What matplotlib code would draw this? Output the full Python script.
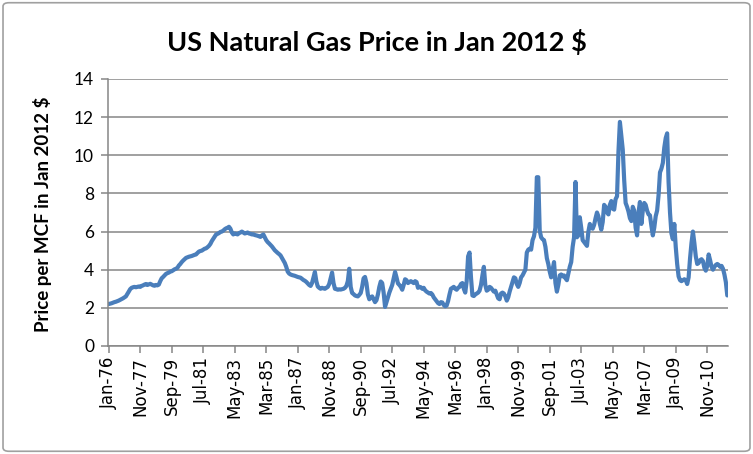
"""US natural gas price (Jan 2012 dollars), monthly Jan-76 .. Jan-12."""

import numpy as np
import matplotlib.pyplot as plt
from matplotlib.patches import FancyBboxPatch

plt.rcParams["font.family"] = ["Lato", "DejaVu Sans"]

TITLE = "US Natural Gas Price in Jan 2012 $"
YLABEL = "Price per MCF in Jan 2012 $"
MONTHS = ["Jan", "Feb", "Mar", "Apr", "May", "Jun",
          "Jul", "Aug", "Sep", "Oct", "Nov", "Dec"]
FIRST_YEAR = 1976
LABEL_EVERY = 22

# monthly values, one row per year (Jan..Dec)
p1976 = [2.20, 2.22, 2.24, 2.27, 2.30, 2.32, 2.35, 2.38, 2.42, 2.46, 2.50, 2.55]
p1977 = [2.60, 2.72, 2.85, 2.98, 3.05, 3.08, 3.10, 3.08, 3.10, 3.12, 3.10, 3.15]
p1978 = [3.18, 3.22, 3.25, 3.20, 3.23, 3.26, 3.22, 3.18, 3.16, 3.20, 3.18, 3.22]
p1979 = [3.40, 3.55, 3.62, 3.70, 3.78, 3.82, 3.85, 3.90, 3.92, 3.97, 4.02, 4.05]
p1980 = [4.10, 4.22, 4.30, 4.40, 4.48, 4.55, 4.62, 4.65, 4.68, 4.70, 4.72, 4.75]
p1981 = [4.78, 4.80, 4.88, 4.95, 4.98, 5.00, 5.05, 5.10, 5.12, 5.18, 5.25, 5.35]
p1982 = [5.50, 5.62, 5.75, 5.85, 5.88, 5.92, 5.98, 6.00, 6.05, 6.12, 6.17, 6.20]
p1983 = [6.25, 6.15, 5.95, 5.85, 5.90, 5.88, 5.85, 5.92, 5.95, 6.00, 5.95, 5.90]
p1984 = [5.92, 5.95, 5.90, 5.88, 5.85, 5.86, 5.82, 5.80, 5.78, 5.75, 5.72, 5.80]
p1985 = [5.85, 5.70, 5.55, 5.45, 5.38, 5.30, 5.22, 5.12, 5.02, 4.95, 4.88, 4.82]
p1986 = [4.75, 4.62, 4.50, 4.35, 4.15, 3.90, 3.80, 3.75, 3.72, 3.70, 3.68, 3.65]
p1987 = [3.62, 3.60, 3.58, 3.52, 3.46, 3.42, 3.36, 3.28, 3.20, 3.15, 3.30, 3.60]
p1988 = [3.88, 3.40, 3.12, 3.05, 3.00, 3.05, 3.02, 3.00, 3.05, 3.10, 3.25, 3.55]
p1989 = [3.85, 3.30, 3.00, 2.98, 2.95, 2.97, 2.96, 2.98, 3.00, 3.05, 3.15, 3.40]
p1990 = [4.05, 3.10, 2.78, 2.72, 2.65, 2.62, 2.60, 2.68, 2.78, 3.10, 3.55, 3.62]
p1991 = [3.30, 2.70, 2.45, 2.55, 2.60, 2.45, 2.30, 2.40, 2.70, 3.10, 3.38, 3.30]
p1992 = [2.80, 2.05, 2.30, 2.55, 2.80, 3.00, 3.20, 3.55, 3.88, 3.60, 3.28, 3.20]
p1993 = [3.10, 2.95, 3.20, 3.50, 3.45, 3.30, 3.35, 3.40, 3.35, 3.30, 3.40, 3.35]
p1994 = [3.05, 3.10, 3.08, 3.00, 3.05, 2.92, 2.85, 2.80, 2.75, 2.78, 2.70, 2.55]
p1995 = [2.45, 2.35, 2.25, 2.20, 2.30, 2.28, 2.15, 2.08, 2.12, 2.35, 2.70, 3.00]
p1996 = [3.05, 3.10, 3.00, 2.95, 3.05, 3.10, 3.25, 3.30, 3.00, 2.80, 3.40, 4.70]
p1997 = [4.90, 3.60, 2.65, 2.62, 2.70, 2.75, 2.80, 2.90, 3.20, 3.70, 4.15, 3.20]
p1998 = [2.90, 2.95, 3.10, 3.05, 2.95, 2.85, 2.90, 2.70, 2.50, 2.45, 2.75, 2.80]
p1999 = [2.75, 2.60, 2.38, 2.55, 2.85, 3.10, 3.35, 3.60, 3.55, 3.25, 3.10, 3.30]
p2000 = [3.60, 3.70, 3.85, 4.00, 4.90, 5.05, 5.10, 5.05, 5.55, 5.75, 6.20, 8.85]
p2001 = [8.85, 6.05, 5.70, 5.60, 5.55, 5.20, 4.60, 4.30, 3.90, 3.60, 4.00, 4.40]
p2002 = [3.30, 2.85, 3.20, 3.70, 3.75, 3.65, 3.70, 3.55, 3.45, 3.80, 4.15, 4.40]
p2003 = [5.20, 5.70, 8.60, 5.70, 5.80, 6.75, 6.20, 5.55, 5.45, 5.35, 5.25, 6.00]
p2004 = [6.40, 6.20, 6.15, 6.35, 6.70, 7.00, 6.80, 6.40, 6.10, 6.50, 7.40, 7.30]
p2005 = [7.00, 6.90, 7.40, 7.60, 7.20, 7.15, 7.70, 7.85, 10.20, 11.75, 11.00, 10.30]
p2006 = [8.70, 7.50, 7.30, 7.05, 6.70, 6.55, 7.30, 7.10, 6.20, 5.80, 7.00, 7.55]
p2007 = [6.40, 7.10, 7.50, 7.40, 7.10, 6.90, 6.85, 6.30, 5.80, 6.20, 6.80, 7.10]
p2008 = [7.90, 9.10, 9.30, 9.60, 10.40, 10.90, 11.15, 8.60, 7.00, 5.90, 5.60, 6.40]
p2009 = [5.20, 4.30, 3.65, 3.45, 3.40, 3.45, 3.50, 3.45, 3.25, 3.60, 4.60, 5.40]
p2010 = [6.00, 5.40, 4.70, 4.30, 4.35, 4.50, 4.55, 4.45, 4.10, 3.95, 4.20, 4.80]
p2011 = [4.50, 4.15, 4.00, 4.15, 4.25, 4.30, 4.25, 4.15, 4.20, 4.05, 3.75, 3.35]
p2012 = [2.65]

YEARS = [p1976, p1977, p1978, p1979, p1980, p1981, p1982, p1983, p1984,
         p1985, p1986, p1987, p1988, p1989, p1990, p1991, p1992, p1993,
         p1994, p1995, p1996, p1997, p1998, p1999, p2000, p2001, p2002,
         p2003, p2004, p2005, p2006, p2007, p2008, p2009, p2010, p2011,
         p2012]

price = np.concatenate([np.asarray(y, dtype=float) for y in YEARS])
idx = np.arange(price.size)
labels = [f"{MONTHS[i % 12]}-{(FIRST_YEAR + i // 12) % 100:02d}" for i in idx]

GRID = "#868686"
BLUE = "#4a7ebb"

fig = plt.figure(figsize=(7.53, 4.54), dpi=100)
fig.patches.append(FancyBboxPatch((0.004, 0.006), 0.992, 0.988,
                                  boxstyle="round,pad=0,rounding_size=0.008",
                                  transform=fig.transFigure, fill=False,
                                  edgecolor="#a0a0a0", linewidth=1.2))

ax = fig.add_axes([0.1434, 0.2379, 0.9668 - 0.1434, 0.826 - 0.2379])
ax.plot(idx, price, color=BLUE, lw=3.0, solid_joinstyle="round",
        solid_capstyle="round")

ax.set_xlim(-0.5, price.size - 0.5)
ax.set_ylim(0, 14)
ax.set_yticks(np.arange(0, 15, 2))
ax.grid(True, axis="y", color=GRID, lw=1.1)
ax.set_axisbelow(True)

ticks = idx[::LABEL_EVERY]
ax.set_xticks(ticks)
ax.set_xticklabels([labels[i] for i in ticks], rotation=90,
                   family="DejaVu Sans", fontsize=12)
ax.tick_params(axis="x", length=5, color=GRID, width=1.1, pad=3)
ax.tick_params(axis="y", length=5, color=GRID, width=1.1, labelsize=12.5, pad=5)

for side in ("top", "right"):
    ax.spines[side].set_visible(False)
for side in ("left", "bottom"):
    ax.spines[side].set_color(GRID)
    ax.spines[side].set_linewidth(1.1)

fig.text(43 / 753, 0.527, YLABEL, ha="center", va="center", rotation=90,
         fontsize=13.5, fontweight="bold")
fig.text(0.5, 0.907, TITLE, ha="center", va="center",
         fontsize=19.5, fontweight="bold")

fig.savefig("out.png", dpi=100)
